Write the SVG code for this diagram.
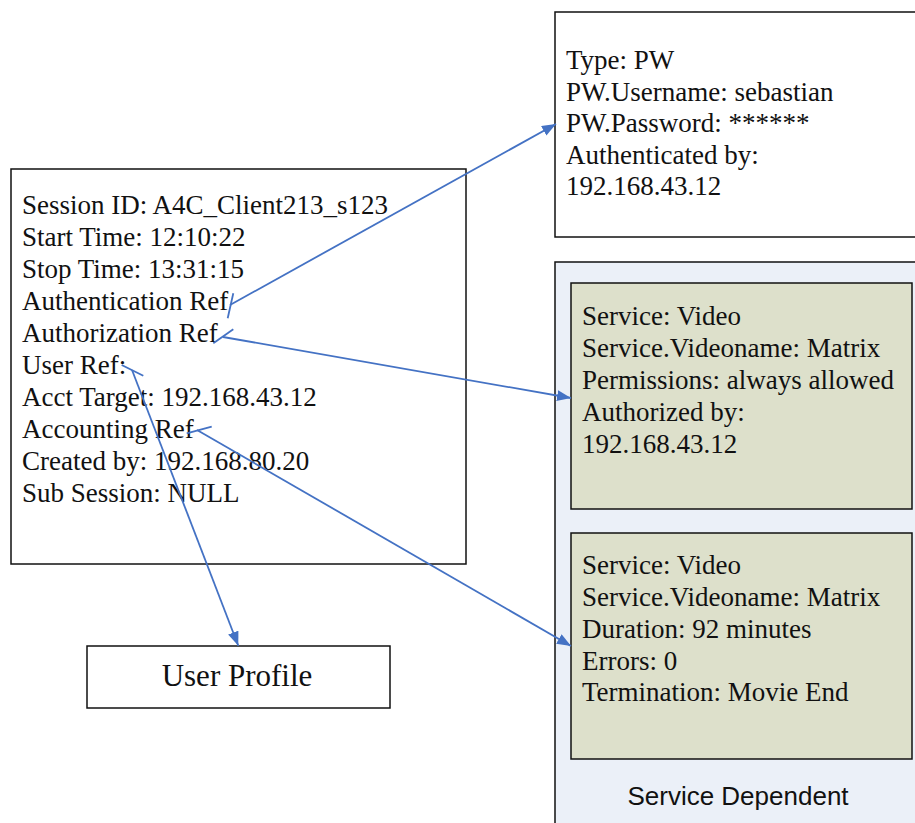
<svg xmlns="http://www.w3.org/2000/svg" width="915" height="823" viewBox="0 0 915 823">
<style>
.t{font-family:"Liberation Serif","Times New Roman",serif;font-size:27px;fill:#111}
.box{fill:#fff;stroke:#111;stroke-width:1.5}
.inner{fill:#dde0cb;stroke:#111;stroke-width:1.5}
.c{stroke:#4472c4;stroke-width:1.8;fill:none}
</style>
<defs>
<marker id="ah" viewBox="0 0 14 11" refX="14" refY="5.5" markerWidth="14" markerHeight="11" markerUnits="userSpaceOnUse" orient="auto">
<path d="M0,0 L14,5.5 L0,11 z" fill="#4472c4"/>
</marker>
</defs>
<rect width="915" height="823" fill="#fff"/>
<g id="service-dependent">
<rect x="555" y="262" width="370" height="580" fill="#ebf0f8" stroke="#111" stroke-width="1.5"/>
<text x="738" y="805" text-anchor="middle" style="font-family:'Liberation Sans',Arial,sans-serif;font-size:26px;fill:#111">Service Dependent</text>
</g>
<g id="session">
<rect class="box" x="11" y="169" width="455" height="395"/>
<text class="t" x="22" y="214">Session ID: A4C_Client213_s123</text>
<text class="t" x="22" y="246">Start Time: 12:10:22</text>
<text class="t" x="22" y="278">Stop Time: 13:31:15</text>
<text class="t" x="22" y="310">Authentication Ref</text>
<text class="t" x="22" y="342">Authorization Ref</text>
<text class="t" x="22" y="374">User Ref:</text>
<text class="t" x="22" y="406">Acct Target: 192.168.43.12</text>
<text class="t" x="22" y="438">Accounting Ref</text>
<text class="t" x="22" y="470">Created by: 192.168.80.20</text>
<text class="t" x="22" y="502">Sub Session: NULL</text>
</g>
<g id="authentication">
<rect class="box" x="555" y="12" width="370" height="225"/>
<text class="t" x="566" y="69">Type: PW</text>
<text class="t" x="566" y="101">PW.Username: sebastian</text>
<text class="t" x="566" y="132">PW.Password: ******</text>
<text class="t" x="566" y="164">Authenticated by:</text>
<text class="t" x="566" y="195">192.168.43.12</text>
</g>
<g id="authorization">
<rect class="inner" x="571" y="283" width="341" height="226"/>
<text class="t" x="582" y="325">Service: Video</text>
<text class="t" x="582" y="357">Service.Videoname: Matrix</text>
<text class="t" x="582" y="389">Permissions: always allowed</text>
<text class="t" x="582" y="421">Authorized by:</text>
<text class="t" x="582" y="453">192.168.43.12</text>
</g>
<g id="accounting">
<rect class="inner" x="571" y="533" width="341" height="226"/>
<text class="t" x="582" y="574">Service: Video</text>
<text class="t" x="582" y="606">Service.Videoname: Matrix</text>
<text class="t" x="582" y="638">Duration: 92 minutes</text>
<text class="t" x="582" y="670">Errors: 0</text>
<text class="t" x="582" y="701">Termination: Movie End</text>
</g>
<g id="user-profile">
<rect class="box" x="87" y="646" width="303" height="62"/>
<text class="t" x="237" y="686" text-anchor="middle" style="font-size:31px">User Profile</text>
</g>
<g id="connectors">
<line class="c" x1="230" y1="305" x2="556" y2="124" marker-end="url(#ah)"/>
<line class="c" x1="227.7" y1="318.3" x2="233.3" y2="293.3"/>
<line class="c" x1="223" y1="337" x2="571" y2="398" marker-end="url(#ah)"/>
<line class="c" x1="213.3" y1="343.3" x2="233.3" y2="329.3"/>
<line class="c" x1="132" y1="370" x2="238.3" y2="645.7" marker-end="url(#ah)"/>
<line class="c" x1="121.7" y1="365" x2="143.3" y2="375.7"/>
<line class="c" x1="197" y1="430" x2="571" y2="646" marker-end="url(#ah)"/>
<line class="c" x1="186.7" y1="433.3" x2="211.7" y2="426.7"/>
</g>
</svg>
